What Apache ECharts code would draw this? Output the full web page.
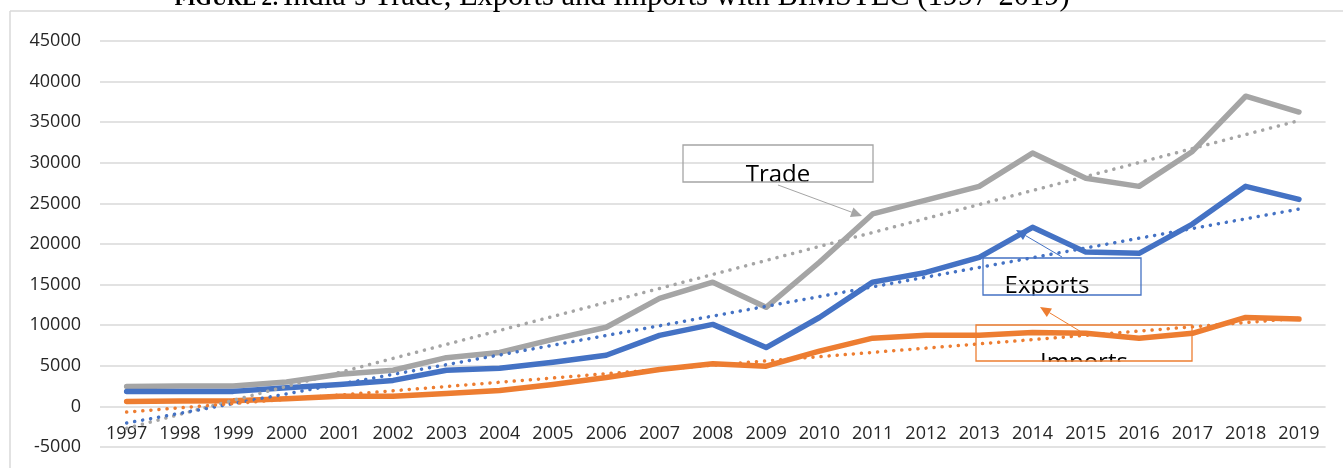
<!DOCTYPE html>
<html>
<head>
<meta charset="utf-8">
<script src="https://cdn.jsdelivr.net/npm/echarts@6/dist/echarts.min.js"></script>
<style>
html,body{margin:0;padding:0;background:#fff;}
#chart{width:1343px;height:468px;}
</style>
</head>
<body>
<div id="chart"></div>
<script>
const years = ['1997','1998','1999','2000','2001','2002','2003','2004','2005','2006','2007','2008','2009','2010','2011','2012','2013','2014','2015','2016','2017','2018','2019'];
const trade   = [2450,2500,2500,3000,3950,4450,6000,6650,8250,9750,13300,15300,12200,17750,23700,25400,27100,31200,28100,27100,31400,38200,36250];
const exports = [1850,1850,1850,2300,2700,3200,4450,4700,5450,6300,8750,10100,7250,10950,15300,16500,18350,22050,19000,18850,22450,27100,25500];
const imports = [600,650,700,950,1250,1250,1600,1950,2700,3550,4550,5250,4950,6800,8400,8750,8750,9100,9000,8400,9000,10950,10750];
// linear trendline end values (first year, last year)
const tradeTrend   = [-2700, 35200];
const exportsTrend = [-2050, 24300];
const importsTrend = [-700, 10850];
const yTicks = {min: -5000, max: 45000, interval: 5000};

const C_TRADE = '#A5A5A5', C_EXP = '#4472C4', C_IMP = '#ED7D31';

function trendData(ends){
  const d = years.map(() => null);
  d[0] = ends[0];
  d[d.length-1] = ends[1];
  return d;
}
function solid(name, data, color){
  return {name, type:'line', data, symbol:'none', z:2,
    lineStyle:{color, width:5.5, cap:'round', join:'round'}, itemStyle:{color}};
}
function dotted(name, ends, color){
  return {name, type:'line', data:trendData(ends), connectNulls:true, symbol:'none', z:3,
    lineStyle:{color, width:3.5, type:[0.1,8], cap:'round'}, itemStyle:{color}};
}
function arrow(x1,y1,x2,y2,color){
  const a = Math.atan2(y2-y1, x2-x1), L = 11, W = 5;
  const bx = x2 - L*Math.cos(a), by = y2 - L*Math.sin(a);
  const px = -Math.sin(a)*W, py = Math.cos(a)*W;
  return [
    {type:'line', z:10, shape:{x1, y1, x2:bx, y2:by}, style:{stroke:color, lineWidth:1}},
    {type:'polygon', z:10, shape:{points:[[x2,y2],[bx+px,by+py],[bx-px,by-py]]}, style:{fill:color}}
  ];
}
function textBox(x, y, w, h, color, label, tx, ty){
  return [
    {type:'text', z:-2, x:tx, y:ty, style:{text:label, fontFamily:'Open Sans', fontSize:24, fill:'#000', align:'center', verticalAlign:'bottom'}},
    {type:'rect', z:-1, shape:{x:x-2, y:y+h+0.8, width:w+4, height:22}, style:{fill:'#fff'}},
    {type:'rect', z:10, shape:{x, y, width:w, height:h}, style:{fill:'none', stroke:color, lineWidth:1.3}}
  ];
}

const chart = echarts.init(document.getElementById('chart'), null, {renderer:'canvas'});
const graphics = [].concat(
  [
    {type:'line', z:10, shape:{x1:10, y1:11, x2:1343, y2:11}, style:{stroke:'#D9D9D9', lineWidth:1.5}},
    {type:'line', z:10, shape:{x1:10, y1:11, x2:10, y2:468}, style:{stroke:'#D9D9D9', lineWidth:1.5}},
    {type:'text', z:10, x:279, y:-0.5, style:{
      text:'FIGURE 2:', fontFamily:'Liberation Serif', fontSize:21, fontWeight:'bold', fill:'#000', align:'right', verticalAlign:'middle'}},
    {type:'text', z:10, x:283, y:-3.5, style:{
      text:'India\u2019s Trade, Exports and Imports with BIMSTEC (1997-2019)', fontFamily:'Liberation Serif', fontSize:30.5, fill:'#000', align:'left', verticalAlign:'middle'}}
  ],
  textBox(683, 145, 190, 37, '#A5A5A5', 'Trade', 778, 187),
  textBox(983, 258, 158, 37, C_EXP, 'Exports', 1047, 298.5),
  textBox(976, 325, 216, 36, C_IMP, 'Imports', 1084, 375.5),
  arrow(778, 185, 862, 216, '#A5A5A5'),
  arrow(1062, 257, 1016, 230, C_EXP),
  arrow(1083, 333, 1040, 307, C_IMP)
);

chart.setOption({
  animation:false,
  backgroundColor:'#fff',
  grid:{left:100, right:17.4, top:41, bottom:21, containLabel:false, outerBoundsMode:'none'},
  xAxis:{type:'category', data:years, boundaryGap:true, position:'bottom',
    axisLine:{show:false, onZero:false},
    axisTick:{show:false},
    axisLabel:{color:'#262626', fontFamily:'Open Sans', fontSize:18, margin:-22, interval:0}},
  yAxis:{type:'value', min:yTicks.min, max:yTicks.max, interval:yTicks.interval,
    axisLine:{show:false}, axisTick:{show:false},
    axisLabel:{color:'#262626', fontFamily:'Open Sans', fontSize:18, margin:19, formatter:v => String(v)},
    splitLine:{lineStyle:{color:'#D9D9D9', width:1.5}}},
  series:[
    solid('Trade', trade, C_TRADE),
    solid('Exports', exports, C_EXP),
    solid('Imports', imports, C_IMP),
    dotted('Linear (Trade)', tradeTrend, C_TRADE),
    dotted('Linear (Exports)', exportsTrend, C_EXP),
    dotted('Linear (Imports)', importsTrend, C_IMP)
  ],
  graphic:graphics
});
</script>
</body>
</html>
